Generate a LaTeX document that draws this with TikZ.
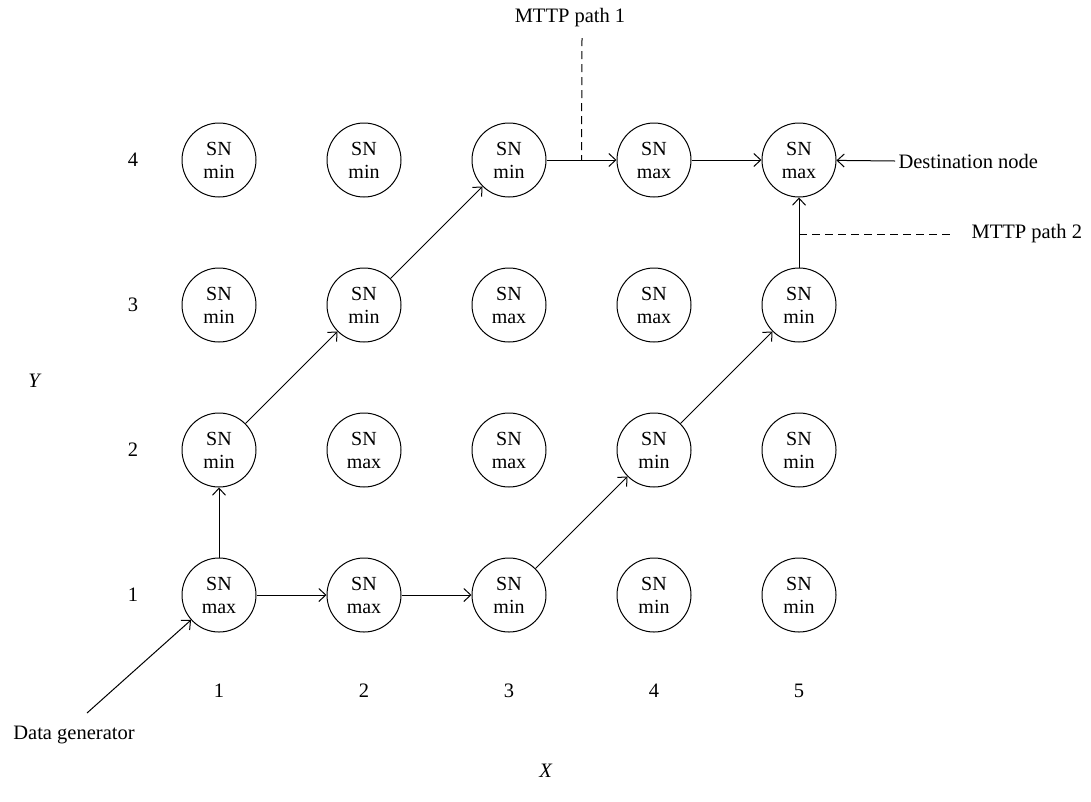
\documentclass[tikz,border=0pt]{standalone}
\usepackage{fontspec}
\setmainfont{Liberation Serif}
\usetikzlibrary{arrows.meta,calc}
\begin{document}
\begin{tikzpicture}[x=1pt,y=-1pt,
  sn/.style={circle,draw,line width=1pt,minimum size=74pt,inner sep=0pt,
    align=center,font=\fontsize{20}{23}\selectfont},
  lbl/.style={font=\fontsize{20.5}{24}\selectfont},
  link/.style={line width=1pt,-{Straight Barb[length=7pt,width=13pt,line width=1pt]}},
  guide/.style={line width=1pt,dash pattern=on 8pt off 5pt}]
\useasboundingbox (0,0) rectangle (1091,801);

% grid of sensor nodes: column x, row y
\foreach \c/\r/\t in {1/4/min,2/4/min,3/4/min,4/4/max,5/4/max,
                      1/3/min,2/3/min,3/3/max,4/3/max,5/3/min,
                      1/2/min,2/2/max,3/2/max,4/2/min,5/2/min,
                      1/1/max,2/1/max,3/1/min,4/1/min,5/1/min}
  \node[sn] (n\c\r) at ({219+145*(\c-1)},{595-145*(\r-1)}) {SN\\\t};

% axis numbers
\foreach \r in {1,...,4}
  \node[lbl] (ry\r) at (133,{595-145*(\r-1)}) {\r};
\foreach \c in {1,...,5}
  \node[lbl] (cx\c) at ({219+145*(\c-1)},691) {\c};
\node[lbl] (ylab) at (35,381) {\textit{Y}};
\node[lbl] (xlab) at (546,771) {\textit{X}};

% path 1
\draw[link] (n11) -- (n12);
\draw[link] (n12) -- (n23);
\draw[link] (n23) -- (n34);
\draw[link] (n34) -- (n44);
\draw[link] (n44) -- (n54);
% path 2
\draw[link] (n11) -- (n21);
\draw[link] (n21) -- (n31);
\draw[link] (n31) -- (n42);
\draw[link] (n42) -- (n53);
\draw[link] (n53) -- (n54);

% source and sink
\node[lbl,anchor=center] (gen) at (74,735) {Data generator};
\coordinate (genend) at (87,713);
\draw[link] (genend) -- (n11);
\node[lbl,anchor=west] (dest) at (895,161) {Destination node};
\draw[link] (dest.west) -- (n54);

% path labels
\node[lbl] (p1) at (570,18) {MTTP path 1};
\coordinate (p1top) at (582,38);
\coordinate (p1bot) at ($(n34.east)!0.5!(n44.west)$);
\node[lbl,anchor=west] (p2) at (968,234) {MTTP path 2};
\coordinate (p2end) at (954,234);
\coordinate (p2start) at (n54 |- p2end);
\draw[guide] (p1top) -- (p1bot);
\draw[guide] (p2start) -- (p2end);
\end{tikzpicture}
\end{document}
